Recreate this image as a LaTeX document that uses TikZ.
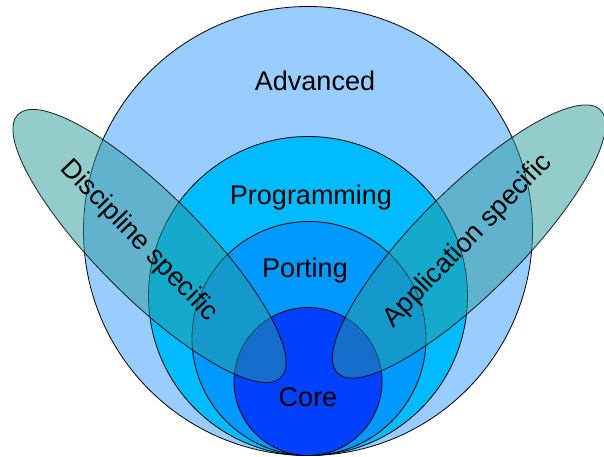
\documentclass[tikz,border=0pt]{standalone}
\usepackage{fontspec}
\setmainfont{Liberation Sans}
\begin{document}
\begin{tikzpicture}[x=1pt,y=1pt,
  ring/.style={draw=black, line width=0.8pt},
  blob/.style={draw=black, line width=0.8pt, fill=tealc, fill opacity=0.5, draw opacity=0.85},
  lbl/.style={font=\fontsize{27}{32}\selectfont, text=black, inner sep=0pt}]
\definecolor{advc}{HTML}{99CCFF}
\definecolor{progc}{HTML}{00BBFF}
\definecolor{portc}{HTML}{0099FF}
\definecolor{corec}{HTML}{0040FF}
\definecolor{tealc}{HTML}{2A9A9A}
\useasboundingbox (0,0) rectangle (604,457);
% concentric (tangent) circles
\path[ring, fill=advc] (308,226) circle[radius=224.5];
\path[ring, fill=progc] (308,161) circle[radius=159.5];
\path[ring, fill=portc] (309,118.5) circle[radius=117];
\path[ring, fill=corec] (308,75.5) circle[radius=74];
% ellipses
\path[blob] (149.5,211) ellipse[x radius=186, y radius=52, rotate=-45];
\path[blob] (469,215.5) ellipse[x radius=186, y radius=52, rotate=45];
% labels
\node[lbl, anchor=base] (adv) at (315,366) {Advanced};
\node[lbl, anchor=base] (prog) at (311,252) {Programming};
\node[lbl, anchor=base] (port) at (305,179) {Porting};
\node[lbl, anchor=base] (core) at (308,50) {Core};
\node[lbl, rotate=-46] (disc) at (139,216) {Discipline specific};
\node[lbl, rotate=46] (app) at (468,216) {Application specific};
\end{tikzpicture}
\end{document}
